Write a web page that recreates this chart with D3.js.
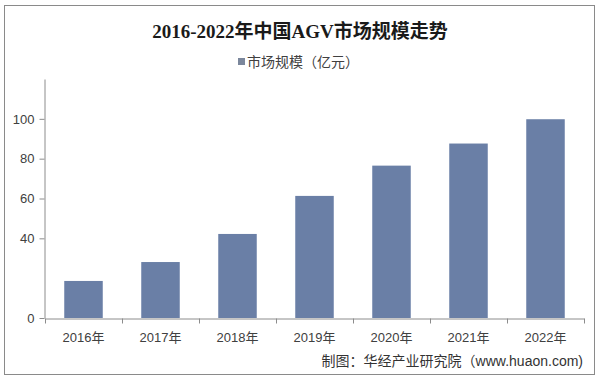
<!DOCTYPE html>
<html>
<head>
<meta charset="utf-8">
<script src="https://cdn.jsdelivr.net/npm/d3@7"></script>
<style>
    body { margin: 0; background: #fff; }
    svg { display: block; }
</style>
</head>
<body>
<div id="chart"></div>
<script>
const years = ['2016年', '2017年', '2018年', '2019年', '2020年', '2021年', '2022年'];
const marketSize = [18.6, 28.1, 42.2, 61.3, 76.5, 87.6, 99.8];
const yTicks = [0, 40, 60, 80, 100];
const titleText = '2016-2022年中国AGV市场规模走势';
const legendText = '市场规模（亿元）';
const sourceText = '制图：华经产业研究院（www.huaon.com)';

const width = 599, height = 378;
const barColor = '#6a7fa6';
const axisColor = '#8c8c8c';
const textColor = '#404040';
const sansFont = '"Liberation Sans", Arial, "Noto Sans CJK SC", sans-serif';

const svg = d3.select('#chart').append('svg')
    .attr('width', width)
    .attr('height', height);

svg.append('rect')
    .attr('x', 4.5).attr('y', 5.5)
    .attr('width', 590).attr('height', 369)
    .attr('fill', '#fff')
    .attr('stroke', '#8a8a8a');

const xScale = d3.scaleBand()
    .domain(years)
    .range([45, 584])
    .paddingInner(0.5)
    .paddingOuter(0.25);

const yScale = d3.scaleLinear()
    .domain([0, 120])
    .range([318, 79]);

// title + legend
svg.append('text')
    .attr('x', 300).attr('y', 38)
    .attr('text-anchor', 'middle')
    .style('font-family', '"Liberation Serif", "Noto Sans CJK SC", serif')
    .style('font-weight', 'bold')
    .style('font-size', '19px')
    .attr('fill', '#1a1a1a')
    .text(titleText);

svg.append('rect')
    .attr('x', 238).attr('y', 58)
    .attr('width', 7).attr('height', 7)
    .attr('fill', '#7b879c');

svg.append('text')
    .attr('x', 247).attr('y', 67)
    .style('font-family', '"Noto Sans CJK SC", sans-serif')
    .style('font-size', '14px')
    .attr('fill', textColor)
    .text(legendText);

// bars
svg.append('g').selectAll('rect')
    .data(years)
    .join('rect')
    .attr('x', d => xScale(d))
    .attr('y', (d, i) => yScale(marketSize[i]))
    .attr('width', xScale.bandwidth())
    .attr('height', (d, i) => yScale(0) - yScale(marketSize[i]))
    .attr('fill', barColor);

// y axis
const yAxis = svg.append('g')
    .attr('transform', 'translate(44.5,0)')
    .call(d3.axisLeft(yScale).tickValues(yTicks).tickSize(5).tickPadding(5).tickSizeOuter(0));
yAxis.select('.domain').attr('stroke', axisColor);
yAxis.selectAll('.tick line').attr('stroke', axisColor);
yAxis.selectAll('.tick text')
    .style('font-family', sansFont)
    .style('font-size', '13px')
    .attr('fill', textColor);

// x axis
const xAxis = svg.append('g')
    .attr('transform', `translate(0,${yScale(0) + 0.5})`)
    .call(d3.axisBottom(xScale).tickSize(0).tickPadding(14).tickSizeOuter(0));
xAxis.select('.domain').attr('stroke', axisColor);
xAxis.selectAll('.tick text')
    .style('font-family', sansFont)
    .style('font-size', '13px')
    .attr('fill', textColor);

const boundaries = d3.range(years.length + 1).map(i => xScale.range()[0] + i * xScale.step());
xAxis.selectAll('.boundary')
    .data(boundaries)
    .join('line')
    .attr('class', 'boundary')
    .attr('x1', d => Math.round(d) + 0.5)
    .attr('x2', d => Math.round(d) + 0.5)
    .attr('y1', 0).attr('y2', 5)
    .attr('stroke', axisColor);

// source
svg.append('text')
    .attr('x', 583).attr('y', 366)
    .attr('text-anchor', 'end')
    .style('font-family', sansFont)
    .style('font-size', '14px')
    .attr('fill', '#333')
    .text(sourceText);
</script>
</body>
</html>
